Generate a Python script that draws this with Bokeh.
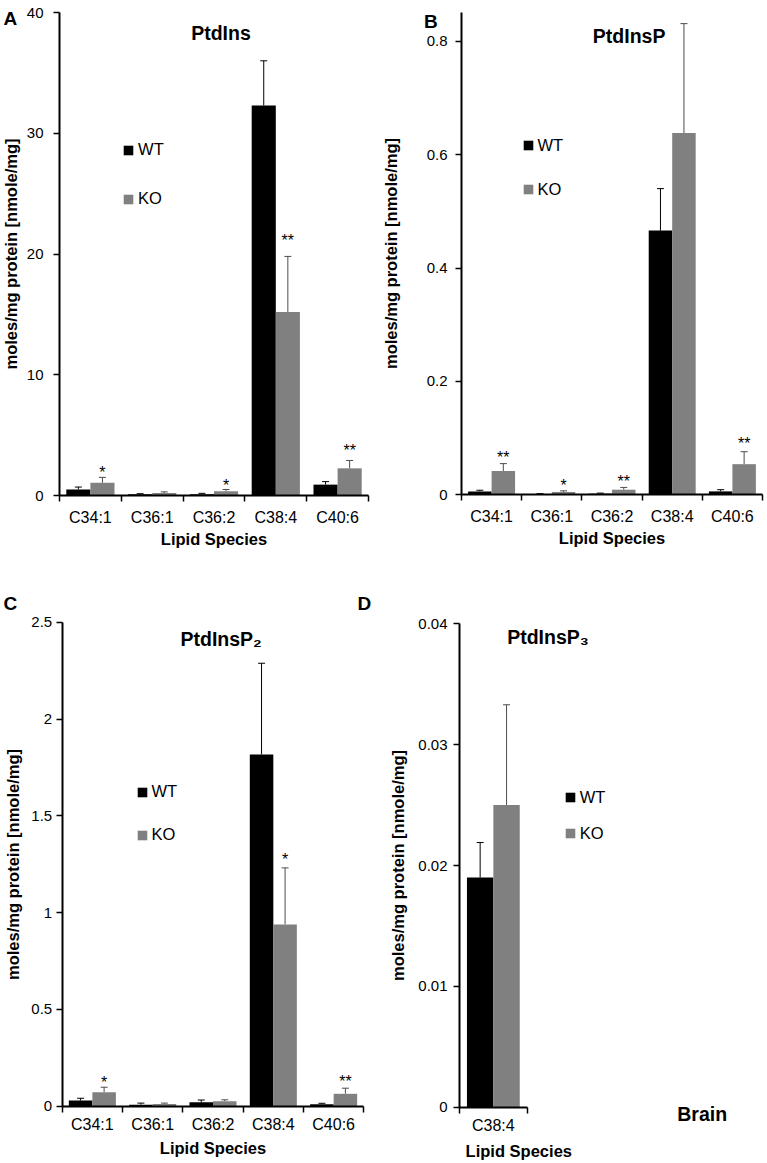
from bokeh.plotting import figure
from bokeh.models import (Range1d, FixedTicker, ColumnDataSource, Whisker, TeeHead,
                          Label, Legend, LegendItem)
from bokeh.layouts import row, column
from bokeh.embed import file_html
from bokeh.resources import INLINE
from bokeh.core.properties import value

FONT = "Liberation Sans"
WT_COLOR = "#000000"
KO_COLOR = "#808080"
WT_ERR_COLOR = "#000000"
KO_ERR_COLOR = "#4d4d4d"

# ---------------- data ----------------
species = ["C34:1", "C36:1", "C36:2", "C38:4", "C40:6"]

ptdins_wt = [0.5, 0.1, 0.1, 32.3, 0.9]
ptdins_wt_err = [0.2, 0.05, 0.08, 3.7, 0.25]
ptdins_ko = [1.05, 0.2, 0.35, 15.2, 2.25]
ptdins_ko_err = [0.45, 0.1, 0.15, 4.6, 0.65]
ptdins_sig = ["*", "", "*", "**", "**"]

ptdinsp_wt = [0.006, 0.001, 0.002, 0.466, 0.006]
ptdinsp_wt_err = [0.002, 0.001, 0.001, 0.074, 0.003]
ptdinsp_ko = [0.042, 0.005, 0.009, 0.638, 0.054]
ptdinsp_ko_err = [0.013, 0.002, 0.004, 0.193, 0.022]
ptdinsp_sig = ["**", "*", "**", "", "**"]

ptdinsp2_wt = [0.029, 0.008, 0.020, 1.817, 0.010]
ptdinsp2_wt_err = [0.012, 0.008, 0.012, 0.471, 0.005]
ptdinsp2_ko = [0.072, 0.012, 0.025, 0.939, 0.064]
ptdinsp2_ko_err = [0.026, 0.004, 0.008, 0.292, 0.029]
ptdinsp2_sig = ["*", "", "", "*", "**"]

species_d = ["C38:4"]
ptdinsp3_wt = [0.019]
ptdinsp3_wt_err = [0.0029]
ptdinsp3_ko = [0.025]
ptdinsp3_ko_err = [0.0083]
ptdinsp3_sig = [""]

yticks_a = [0, 10, 20, 30, 40]
ylabels_a = ["0", "10", "20", "30", "40"]
yticks_b = [0, 0.2, 0.4, 0.6, 0.8]
ylabels_b = ["0", "0.2", "0.4", "0.6", "0.8"]
yticks_c = [0, 0.5, 1, 1.5, 2, 2.5]
ylabels_c = ["0", "0.5", "1", "1.5", "2", "2.5"]
yticks_d = [0, 0.01, 0.02, 0.03, 0.04]
ylabels_d = ["0", "0.01", "0.02", "0.03", "0.04"]

Y_TITLE = "moles/mg protein [nmole/mg]"
X_TITLE = "Lipid Species"

# ---------------- layout (page px) ----------------
# fig: (left, top, width, height)
# plot: (x px of first category edge, x px of last category edge,
#        y px of value 0, y px of reference tick, reference tick value)
L_A = dict(fig=(0, 0, 380, 570), plot=(59, 368, 495, 12, 40), ytop=40,
           ytick_standoff=10, ylabel_standoff=4, xtick_standoff=7, xlabel_standoff=1,
           legend=(122.1, 362), legend_spacing=30,
           title=("PtdIns", 190.7, 537.7),
           letters=[("A", 3, 552.3)],
           star_gap=[14, 0, 13, 25, 19])
L_B = dict(fig=(380, 0, 387, 570), plot=(461, 762, 494.3, 40.7, 0.8), ytop=0.85,
           ytick_standoff=8, ylabel_standoff=24, xtick_standoff=7, xlabel_standoff=1,
           legend=(141.5, 371.5), legend_spacing=25,
           title=("PtdInsP", 212.3, 535),
           letters=[("B", 43.5, 549.3)],
           star_gap=[15, 14, 15, 0, 17])
L_C = dict(fig=(0, 570, 380, 593), plot=(61.7, 363.3, 1105.7, 621.7, 2.5), ytop=2.5,
           ytick_standoff=4, ylabel_standoff=7, xtick_standoff=4, xlabel_standoff=2,
           legend=(135.5, 319), legend_spacing=24,
           title=("PtdInsP\u2082", 180, 524.7),
           letters=[("C", 3, 559.7), ("D", 357, 559.7)],
           star_gap=[14, 0, 0, 17, 16])
L_D = dict(fig=(380, 570, 387, 593), plot=(459, 526.7, 1106.7, 623.3, 0.04), ytop=0.04,
           ytick_standoff=6, ylabel_standoff=8, xtick_standoff=4, xlabel_standoff=2,
           legend=(183.8, 320.2), legend_spacing=17,
           title=("PtdInsP\u2083", 126.7, 526.3),
           letters=[],
           star_gap=[0],
           xtitle_label=(138.3, 13),
           extra=("Brain", 321.7, 50))


def panel(cats, wt, wt_err, ko, ko_err, sig, yticks, ylabels, lay):
    FL, FT, FW, FH = lay["fig"]
    x0, x1, y0, yref_px, yref_val = lay["plot"]
    n = len(cats)
    kx = (x1 - x0) / n
    ky = (y0 - yref_px) / yref_val
    p = figure(width=FW, height=FH, title=None,
               x_range=Range1d((FL - x0) / kx, (FL + FW - x0) / kx),
               y_range=Range1d((y0 - (FT + FH)) / ky, (y0 - FT) / ky),
               output_backend="svg", toolbar_location=None,
               min_border=0, min_border_left=0, min_border_right=0,
               min_border_top=0, min_border_bottom=0)
    p.outline_line_color = None
    p.xgrid.visible = False
    p.ygrid.visible = False
    p.background_fill_color = "white"
    p.border_fill_color = "white"

    # bars
    xs = list(range(n))
    src = ColumnDataSource(dict(
        xw=[i + 0.5 - 0.195 for i in xs], xk=[i + 0.5 + 0.195 for i in xs],
        wt=wt, ko=ko,
        wt_hi=[v + e for v, e in zip(wt, wt_err)],
        ko_hi=[v + e for v, e in zip(ko, ko_err)]))
    r_wt = p.vbar(x="xw", top="wt", bottom=0, width=0.39, source=src,
                  fill_color=WT_COLOR, line_color=None)
    r_ko = p.vbar(x="xk", top="ko", bottom=0, width=0.39, source=src,
                  fill_color=KO_COLOR, line_color=None)

    p.add_layout(Whisker(base="xw", lower="wt", upper="wt_hi", source=src,
                         dimension="height", line_color=WT_ERR_COLOR, line_width=1,
                         lower_head=None,
                         upper_head=TeeHead(size=7, line_color=WT_ERR_COLOR, line_width=1)))
    p.add_layout(Whisker(base="xk", lower="ko", upper="ko_hi", source=src,
                         dimension="height", line_color=KO_ERR_COLOR, line_width=1,
                         lower_head=None,
                         upper_head=TeeHead(size=7, line_color=KO_ERR_COLOR, line_width=1)))

    # significance stars
    sx, sy, st, so = [], [], [], []
    for i in xs:
        if sig[i]:
            sx.append(i + 0.5 + 0.195)
            sy.append(ko[i] + ko_err[i])
            st.append(sig[i])
            so.append(9 - lay["star_gap"][i])
    if st:
        ssrc = ColumnDataSource(dict(x=sx, y=sy, t=st, off=so))
        p.text(x="x", y="y", text="t", y_offset="off", source=ssrc,
               text_align="center", text_baseline="alphabetic",
               text_font=value(FONT), text_font_size="16px", text_color="black")

    # x axis (fixed at y = 0, limited to the categories)
    xa = p.xaxis[0]
    xa.fixed_location = 0
    xa.bounds = (0, n)
    xa.ticker = FixedTicker(ticks=[i + 0.5 for i in xs], minor_ticks=list(range(n + 1)))
    xa.major_label_overrides = {i + 0.5: c for i, c in enumerate(cats)}
    xa.major_tick_line_color = None
    xa.major_tick_out = 0
    xa.major_tick_in = 0
    xa.minor_tick_out = 6
    xa.minor_tick_in = 0
    xa.minor_tick_line_color = "black"
    xa.minor_tick_line_width = 1.5
    xa.axis_line_width = 2
    xa.axis_line_color = "black"
    xa.major_label_text_font = FONT
    xa.major_label_text_font_size = "16px"
    xa.major_label_text_color = "black"
    xa.major_label_standoff = lay["xtick_standoff"]
    if "xtitle_label" not in lay:
        xa.axis_label = X_TITLE
        xa.axis_label_text_font = FONT
        xa.axis_label_text_font_style = "bold"
        xa.axis_label_text_font_size = "16.5px"
        xa.axis_label_text_color = "black"
        xa.axis_label_standoff = lay["xlabel_standoff"]
    else:
        tx, ty = lay["xtitle_label"]
        p.add_layout(Label(x=tx, y=ty, x_units="screen", y_units="screen", text=X_TITLE,
                           text_font=FONT, text_font_style="bold", text_font_size="16.5px",
                           text_align="center", text_baseline="alphabetic",
                           text_color="black"))

    # y axis (fixed at x = 0)
    ya = p.yaxis[0]
    ya.fixed_location = 0
    ya.bounds = (0, lay["ytop"])
    ya.ticker = FixedTicker(ticks=yticks, minor_ticks=[])
    ya.major_label_overrides = {t: s for t, s in zip(yticks, ylabels)}
    ya.major_tick_out = 6
    ya.major_tick_in = 0
    ya.major_tick_line_width = 1.5
    ya.major_tick_line_color = "black"
    ya.minor_tick_line_color = None
    ya.axis_line_width = 2
    ya.axis_line_color = "black"
    ya.major_label_text_font = FONT
    ya.major_label_text_font_size = "15px"
    ya.major_label_text_color = "black"
    ya.major_label_standoff = lay["ytick_standoff"]
    ya.axis_label = Y_TITLE
    ya.axis_label_text_font = FONT
    ya.axis_label_text_font_style = "bold"
    ya.axis_label_text_font_size = "16.5px"
    ya.axis_label_text_color = "black"
    ya.axis_label_standoff = lay["ylabel_standoff"]

    # legend
    lx, ly = lay["legend"]
    leg = Legend(items=[LegendItem(label="WT", renderers=[r_wt]),
                        LegendItem(label="KO", renderers=[r_ko])],
                 location=(lx, ly), orientation="vertical",
                 spacing=int(round(lay["legend_spacing"])), padding=0, margin=0,
                 glyph_width=12, glyph_height=12, label_height=12,
                 label_standoff=4, label_text_font=FONT, label_text_font_size="16.5px",
                 label_text_color="black",
                 border_line_color=None, background_fill_alpha=0)
    p.add_layout(leg)

    # panel title (inside plot area)
    t, tx, ty = lay["title"]
    p.add_layout(Label(x=tx, y=ty, x_units="screen", y_units="screen", text=t,
                       text_font=FONT, text_font_style="bold", text_font_size="19.5px",
                       text_align="left", text_baseline="alphabetic", text_color="black"))
    for (lt, lx2, ly2) in lay["letters"]:
        p.add_layout(Label(x=lx2, y=ly2, x_units="screen", y_units="screen", text=lt,
                           text_font=FONT, text_font_style="bold", text_font_size="19px",
                           text_align="left", text_baseline="alphabetic", text_color="black"))
    if "extra" in lay:
        et, ex, ey = lay["extra"]
        p.add_layout(Label(x=ex, y=ey, x_units="screen", y_units="screen", text=et,
                           text_font=FONT, text_font_style="bold", text_font_size="19.5px",
                           text_align="center", text_baseline="alphabetic", text_color="black"))
    return p


pa = panel(species, ptdins_wt, ptdins_wt_err, ptdins_ko, ptdins_ko_err, ptdins_sig,
           yticks_a, ylabels_a, L_A)
pb = panel(species, ptdinsp_wt, ptdinsp_wt_err, ptdinsp_ko, ptdinsp_ko_err, ptdinsp_sig,
           yticks_b, ylabels_b, L_B)
pc = panel(species, ptdinsp2_wt, ptdinsp2_wt_err, ptdinsp2_ko, ptdinsp2_ko_err, ptdinsp2_sig,
           yticks_c, ylabels_c, L_C)
pd = panel(species_d, ptdinsp3_wt, ptdinsp3_wt_err, ptdinsp3_ko, ptdinsp3_ko_err, ptdinsp3_sig,
           yticks_d, ylabels_d, L_D)

layout = column(row(pa, pb, spacing=0), row(pc, pd, spacing=0), spacing=0)

open("out.html", "w").write(file_html(layout, INLINE))
